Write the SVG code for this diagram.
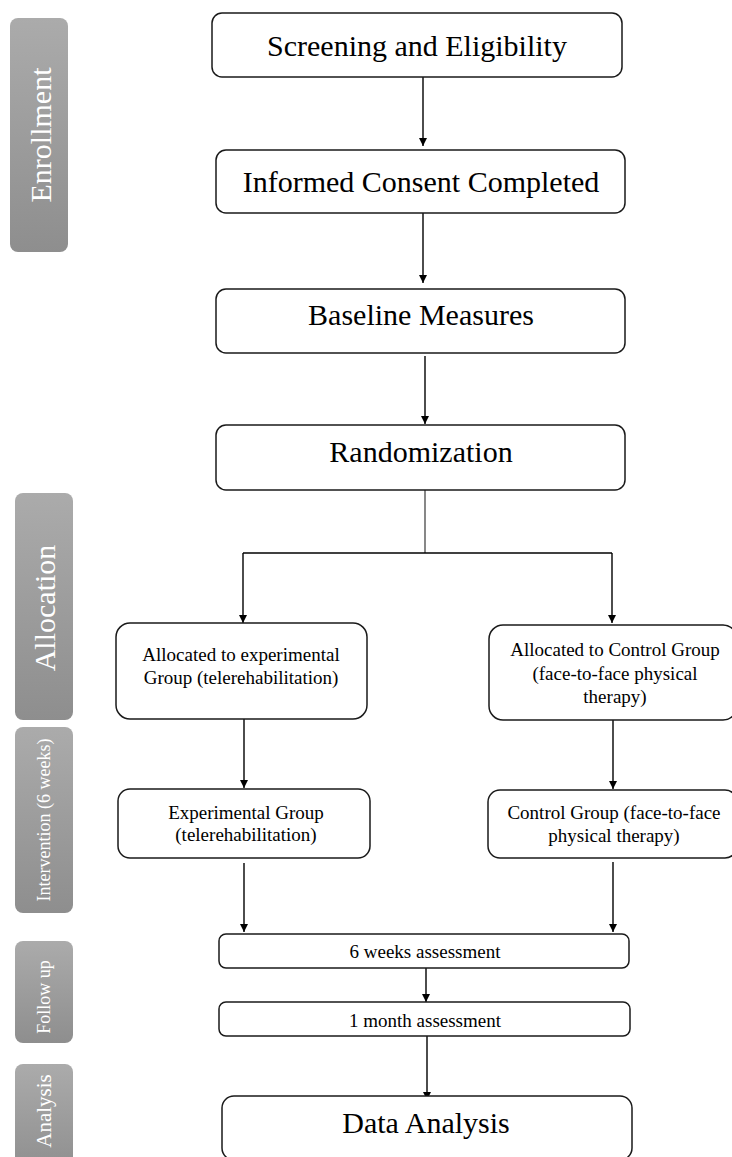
<svg xmlns="http://www.w3.org/2000/svg" width="732" height="1157" viewBox="0 0 732 1157">
<defs>
<linearGradient id="gb" x1="0" y1="0" x2="0" y2="1">
<stop offset="0" stop-color="#ababab"/>
<stop offset="1" stop-color="#8e8e8e"/>
</linearGradient>
<marker id="ah" viewBox="0 0 10 10" refX="10" refY="5" markerWidth="8" markerHeight="8" markerUnits="userSpaceOnUse" orient="auto">
<path d="M0,0 L10,5 L0,10 z" fill="#000"/>
</marker>
<style>
.bar{fill:url(#gb);}
.bt{fill:#fff;font-family:"Liberation Serif","Times New Roman",serif;text-anchor:middle;}
.box{fill:#fff;stroke:#1a1a1a;stroke-width:1.5;}
.t30{font-family:"Liberation Serif","Times New Roman",serif;font-size:30px;fill:#000;text-anchor:middle;}
.t19{font-family:"Liberation Serif","Times New Roman",serif;font-size:19px;fill:#000;text-anchor:middle;}
.ln{fill:none;stroke:#000;stroke-width:1.4;}
</style>
</defs>
<rect width="732" height="1157" fill="#fff"/>

<g id="bar-enrollment"><rect class="bar" x="10" y="18" width="58" height="234" rx="8"/><text class="bt" font-size="30" transform="translate(51,135) rotate(-90)">Enrollment</text></g>
<g id="bar-allocation"><rect class="bar" x="15" y="493" width="58" height="227" rx="8"/><text class="bt" font-size="30" transform="translate(55,608) rotate(-90)">Allocation</text></g>
<g id="bar-intervention"><rect class="bar" x="15" y="727" width="58" height="186" rx="8"/><text class="bt" font-size="18" transform="translate(50,820) rotate(-90)">Intervention (6 weeks)</text></g>
<g id="bar-followup"><rect class="bar" x="15" y="941" width="58" height="102" rx="8"/><text class="bt" font-size="18" transform="translate(50,997) rotate(-90)">Follow up</text></g>
<g id="bar-analysis"><rect class="bar" x="15" y="1064" width="58" height="110" rx="8"/><text class="bt" font-size="21" transform="translate(51,1111) rotate(-90)">Analysis</text></g>

<g id="connectors">
<line class="ln" x1="423" y1="77" x2="423" y2="146" marker-end="url(#ah)"/>
<line class="ln" x1="423" y1="213" x2="423" y2="283" marker-end="url(#ah)"/>
<line class="ln" x1="425" y1="356" x2="425" y2="424" marker-end="url(#ah)"/>
<line x1="425" y1="490" x2="425" y2="553" stroke="#555" stroke-width="1.4"/>
<line class="ln" x1="243" y1="553" x2="612" y2="553"/>
<line class="ln" x1="243" y1="553" x2="243" y2="623" marker-end="url(#ah)"/>
<line class="ln" x1="612" y1="553" x2="612" y2="623" marker-end="url(#ah)"/>
<line class="ln" x1="244" y1="719" x2="244" y2="788" marker-end="url(#ah)"/>
<line class="ln" x1="613" y1="720" x2="613" y2="789" marker-end="url(#ah)"/>
<line class="ln" x1="244" y1="863" x2="244" y2="932" marker-end="url(#ah)"/>
<line class="ln" x1="613" y1="862" x2="613" y2="932" marker-end="url(#ah)"/>
<line class="ln" x1="426" y1="968" x2="426" y2="1002" marker-end="url(#ah)"/>
<line class="ln" x1="427" y1="1036" x2="427" y2="1100" marker-end="url(#ah)"/>
</g>

<g id="n-screening"><rect class="box" x="212" y="13" width="410" height="64" rx="10"/><text class="t30" x="417" y="56">Screening and Eligibility</text></g>
<g id="n-consent"><rect class="box" x="216" y="150" width="409" height="63" rx="10"/><text class="t30" x="421" y="192">Informed Consent Completed</text></g>
<g id="n-baseline"><rect class="box" x="216" y="289" width="409" height="64" rx="10"/><text class="t30" x="421" y="325">Baseline Measures</text></g>
<g id="n-random"><rect class="box" x="216" y="425" width="409" height="65" rx="10"/><text class="t30" x="421" y="462">Randomization</text></g>

<g id="n-alloc-exp"><rect class="box" x="116" y="623" width="251" height="96" rx="14"/><text class="t19" x="241" y="661">Allocated to experimental</text><text class="t19" x="241" y="684">Group (telerehabilitation)</text></g>
<g id="n-alloc-ctrl"><rect class="box" x="489" y="625" width="248" height="95" rx="14"/><text class="t19" x="615" y="656">Allocated to Control Group</text><text class="t19" x="615" y="680">(face-to-face physical</text><text class="t19" x="615" y="703">therapy)</text></g>

<g id="n-exp"><rect class="box" x="118" y="789" width="252" height="69" rx="12"/><text class="t19" x="246" y="819">Experimental Group</text><text class="t19" x="246" y="841">(telerehabilitation)</text></g>
<g id="n-ctrl"><rect class="box" x="488" y="790" width="249" height="68" rx="12"/><text class="t19" x="614" y="819">Control Group (face-to-face</text><text class="t19" x="614" y="842">physical therapy)</text></g>

<g id="n-6w"><rect class="box" x="219" y="934" width="410" height="34" rx="7"/><text class="t19" x="425" y="958">6 weeks assessment</text></g>
<g id="n-1m"><rect class="box" x="219" y="1002" width="411" height="34" rx="7"/><text class="t19" x="425" y="1027">1 month assessment</text></g>
<g id="n-data"><rect class="box" x="222" y="1096" width="410" height="64" rx="12"/><text class="t30" x="426" y="1133">Data Analysis</text></g>
</svg>
